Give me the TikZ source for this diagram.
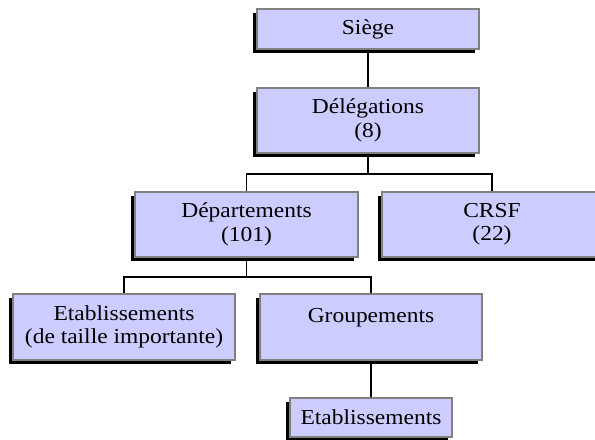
\documentclass[tikz,border=0pt]{standalone}
\usepackage{fontspec}
\setmainfont{Liberation Serif}[FakeStretch=1.1]
\usetikzlibrary{shadows}
\definecolor{boxfill}{HTML}{CCCCFF}
\definecolor{boxline}{HTML}{808080}
\tikzset{
  orgbox/.style={draw=boxline, line width=0.8pt, fill=boxfill, align=center,
    inner sep=0pt, font=\fontsize{16}{17.5}\selectfont,
    drop shadow={shadow xshift=-3pt, shadow yshift=-3pt, fill=black, opacity=1}},
  link/.style={draw=black, line width=1pt}
}
\begin{document}
\begin{tikzpicture}[x=0.75pt, y=-0.75pt]
\useasboundingbox (0,0) rectangle (595,439);
\node[orgbox, minimum width={222*0.75pt}, minimum height={40*0.75pt}] (siege) at (368,29) {Siège};
\node[orgbox, minimum width={222*0.75pt}, minimum height={65*0.75pt}] (deleg) at (368,120.5) {Délégations\\(8)};
\node[orgbox, minimum width={223*0.75pt}, minimum height={65*0.75pt}] (dep) at (246.5,224.5) {Départements\\(101)};
\node[orgbox, minimum width={220*0.75pt}, minimum height={65*0.75pt}] (crsf) at (492,224.5) {CRSF\\(22)};
\node[orgbox, minimum width={222*0.75pt}, minimum height={66*0.75pt}] (etabimp) at (124,327) {Etablissements\\(de taille importante)};
\node[orgbox, minimum width={222*0.75pt}, minimum height={66*0.75pt}] (group) at (371,327) {Groupements\\\mbox{}};
\node[orgbox, minimum width={162*0.75pt}, minimum height={39*0.75pt}] (etab) at (371,417.5) {Etablissements};
\coordinate (j1) at (368,174);
\coordinate (j2) at (246.5,277);
\draw[link] (siege.south) -- (deleg.north);
\draw[link] (deleg.south) -- (j1);
\draw[link] (dep.north) |- (j1) -| (crsf.north);
\draw[link] (dep.south) -- (j2);
\draw[link] (etabimp.north) |- (j2) -| (group.north);
\draw[link] (group.south) -- (etab.north);
\end{tikzpicture}
\end{document}
